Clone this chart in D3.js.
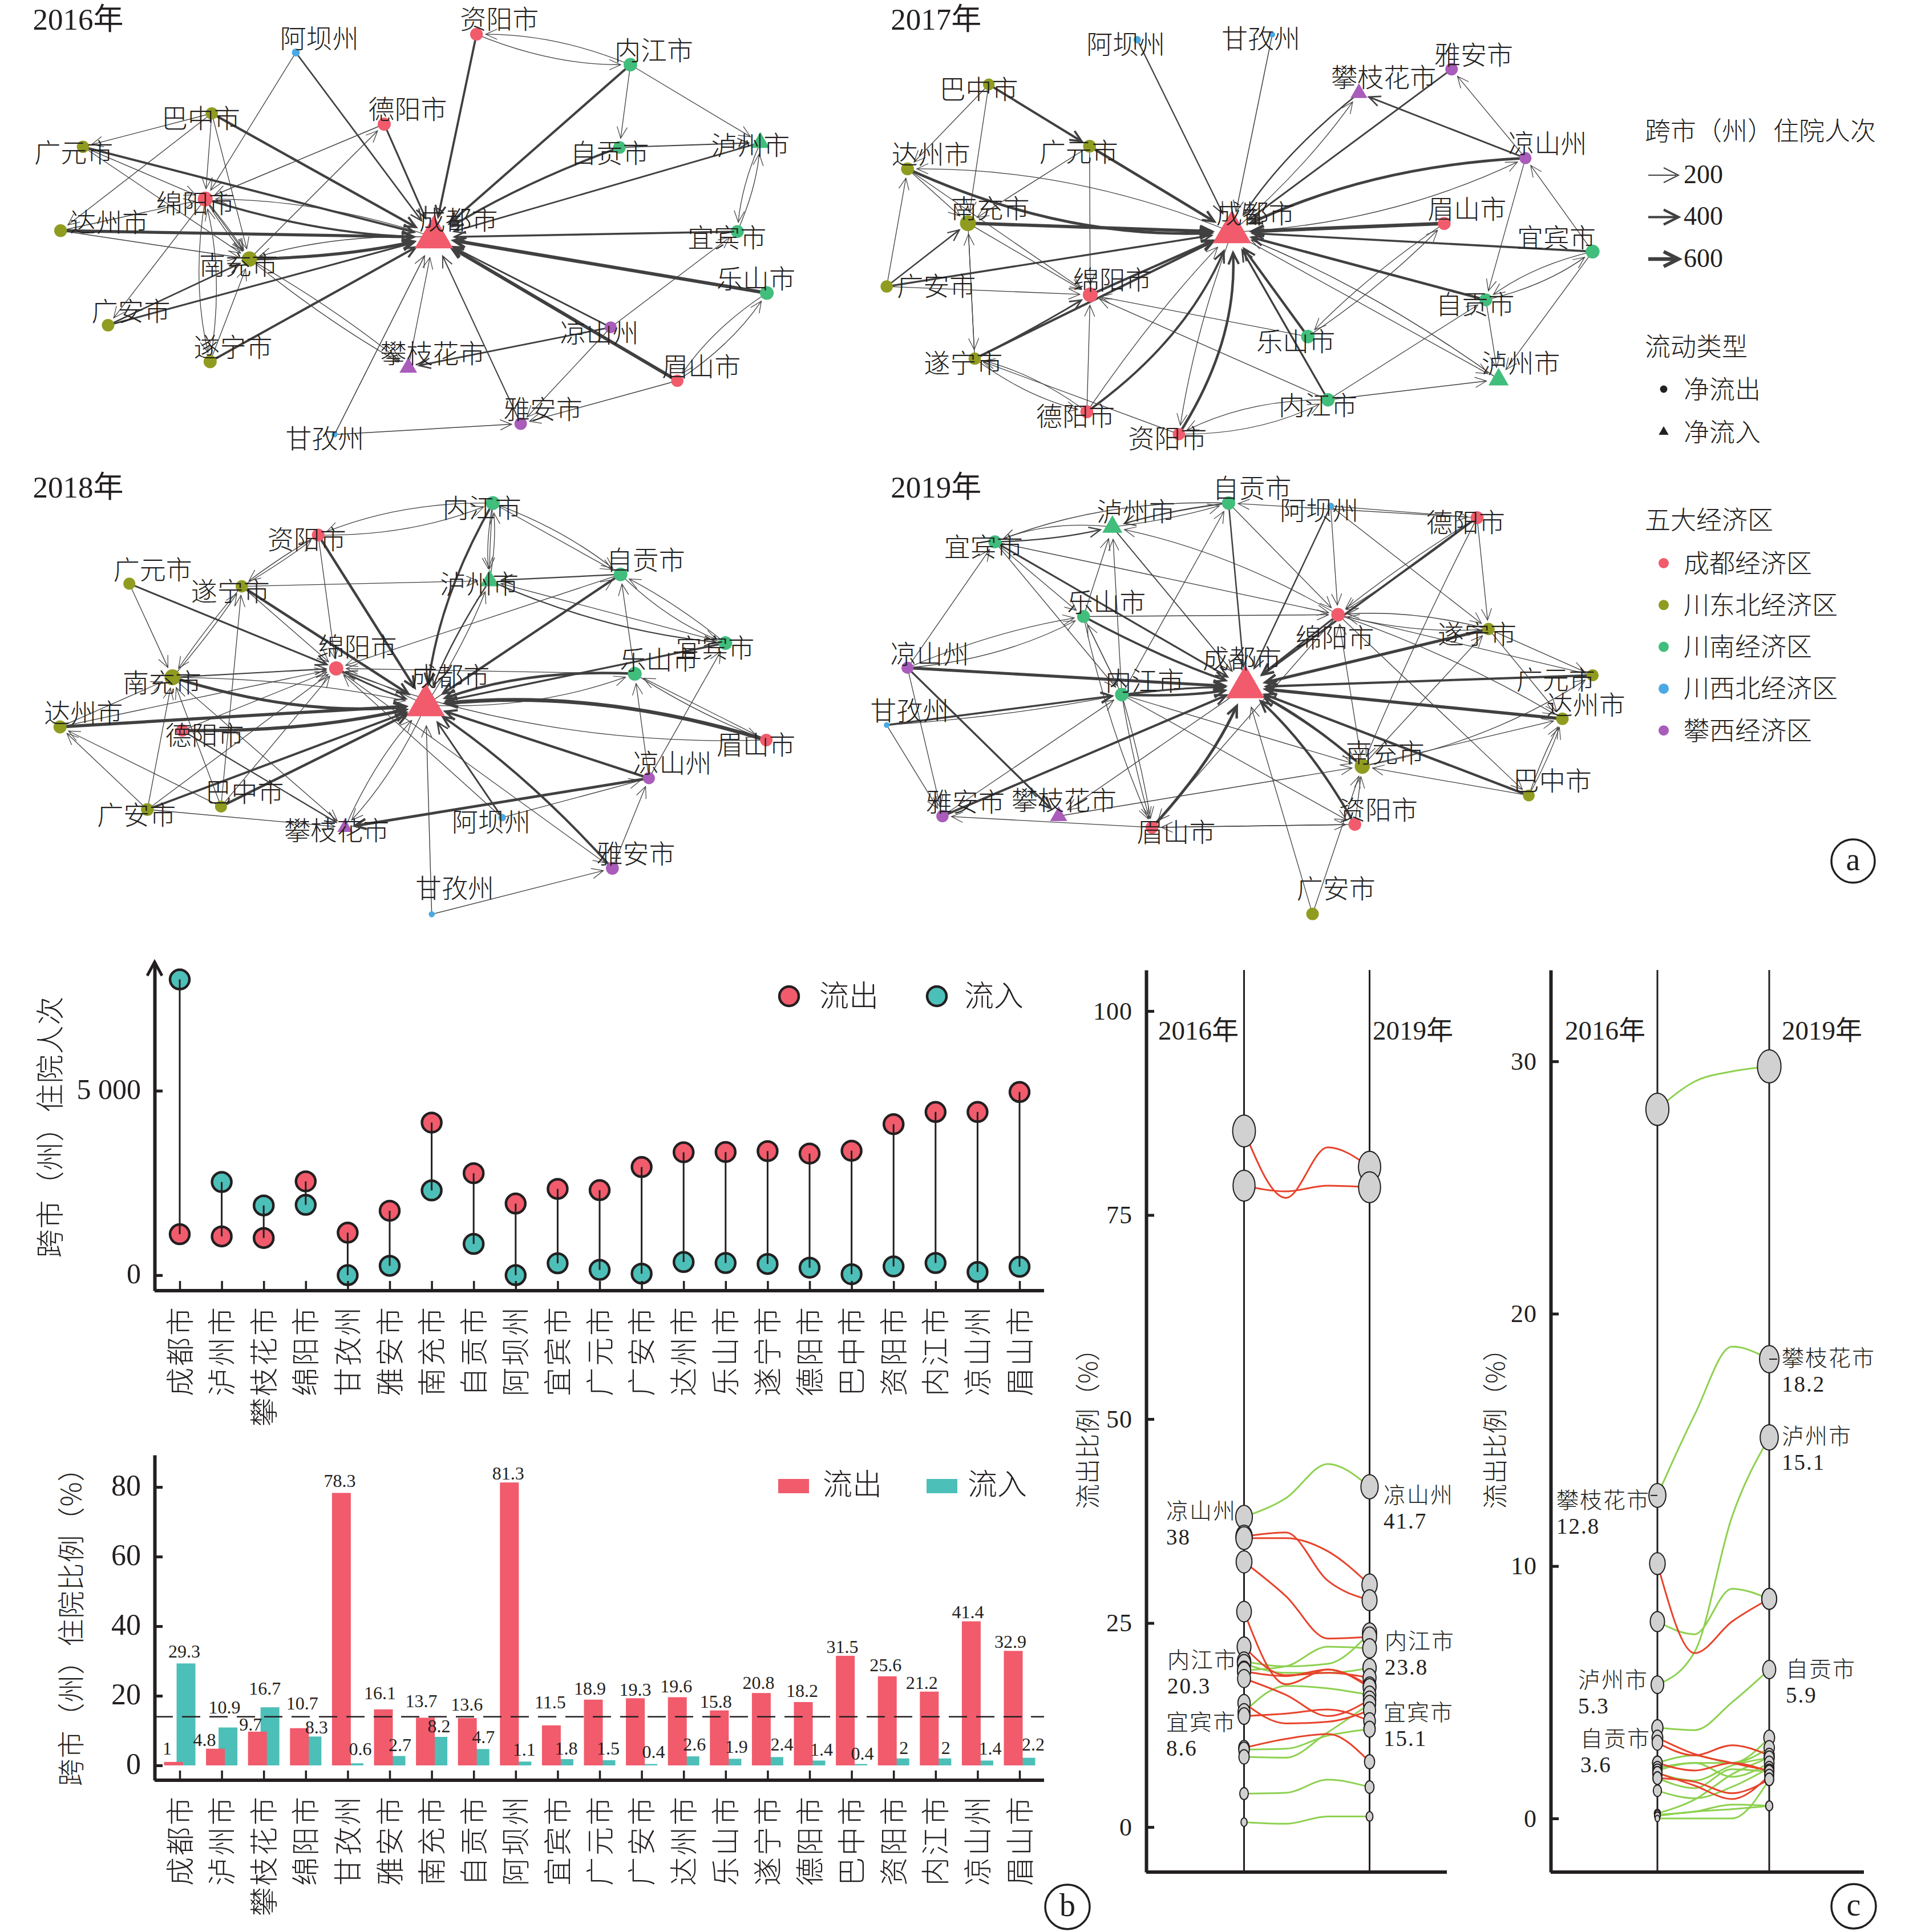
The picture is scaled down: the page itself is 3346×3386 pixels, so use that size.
<!DOCTYPE html>
<html>
<head>
<meta charset="utf-8">
<script src="https://cdn.jsdelivr.net/npm/d3@7"></script>
<style>
  html, body { margin: 0; background: #fff; }
  text { font-family: "Liberation Serif", "Noto Sans CJK SC", serif; fill: #231f20; }
</style>
</head>
<body>
<svg id="chart" width="3346" height="3386"></svg>
<script>
// ---- panel b data
const cities = ["成都市","泸州市","攀枝花市","绵阳市","甘孜州","雅安市","南充市","自贡市","阿坝州","宜宾市","广元市","广安市","达州市","乐山市","遂宁市","德阳市","巴中市","资阳市","内江市","凉山州","眉山市"];
const outCount = [1110,1051,1008,2543,1153,1746,4136,2763,1941,2339,2305,2932,3331,3339,3364,3297,3373,4093,4424,4424,4966];
const inCount = [8017,2525,1890,1907,0,254,2297,847,0,322,144,42,356,330,305,203,25,237,330,85,229];
const outPct = [1,4.8,9.7,10.7,78.3,16.1,13.7,13.6,81.3,11.5,18.9,19.3,19.6,15.8,20.8,18.2,31.5,25.6,21.2,41.4,32.9];
const inPct = [29.3,10.9,16.7,8.3,0.6,2.7,8.2,4.7,1.1,1.8,1.5,0.4,2.6,1.9,2.4,1.4,0.4,2,2,1.4,2.2];
const meanPct = 14;

// ---- panel c data: share in 2016, 2017, 2018, 2019
const years = [2016,2017,2018,2019];
const outShareRed = [
  [85.3,77.1,83.3,80.9],[78.6,77.9,78.6,78.4],[35.6,36.1,30.2,27.8],[35.4,35.4,33.8,29.7],
  [32.5,28.3,23.1,23.3],[26.4,17.5,19.3,17.3],[22.1,18.6,18.9,18.3],[18.2,16.2,13.6,15.6],
  [15.2,12.7,12.9,14.3],[13.6,13.9,14.4,13],[9.7,10.8,11.4,8],[19.1,18.5,19.3,17.1]
];
const outShareGreen = [
  [38,40.3,44.5,41.7],[20.3,19.7,20,23.8],[19.2,19.7,22.1,21.9],[20,18.9,18.9,19.5],
  [14.1,17.3,17,16.2],[9.5,9.6,11.2,12],[8.6,8.5,11.6,15.1],[4.1,4.2,5.8,4.9],[0.6,0.4,1.3,1.3]
];
const inShareRed = [
  [10.1,6.55,7.8,8.7],[3.2,2.55,2.2,1.9],[3,2.5,2.9,2.5],[2.2,1.9,2.2,1.85],[1.8,1.3,0.77,1.7],[1.6,1.45,1,1.55]
];
const inShareGreen = [
  [28.1,29.2,29.6,29.8],[12.8,16,18.7,18.2],[5.3,6.6,11.95,15.1],[7.8,7.3,9.1,8.7],[3.6,3.5,4.6,5.9],
  [0.2,0.75,1.75,2.4],[0.1,0.27,0.37,0.5],[0,0,0,1.55],[0.15,0.27,0.55,0.5],[2,2.2,1.65,2.2],
  [1.8,1.5,2.1,2.4],[1.6,1.2,1.95,1.85],[1.1,0.8,1.25,2],[1.9,2.2,2.2,2.8],[2.2,2.5,2.2,3.2]
];

// ---- panel a data
const regionOf = {
  "成都市":0,"德阳市":0,"绵阳市":0,"眉山市":0,"资阳市":0,
  "广元市":1,"巴中市":1,"达州市":1,"南充市":1,"广安市":1,"遂宁市":1,
  "内江市":2,"自贡市":2,"泸州市":2,"宜宾市":2,"乐山市":2,
  "阿坝州":3,"甘孜州":3,
  "攀枝花市":4,"凉山州":4,"雅安市":4
};
const regionNames = ["成都经济区","川东北经济区","川南经济区","川西北经济区","攀西经济区"];
const netInflow = ["成都市","泸州市","攀枝花市"];
// name, layout x, layout y, label x, label y, visits
const layout2016 = [
  ["资阳市",873,115,915,65,1100],["内江市",1155,217,1198,170,1300],["阿坝州",542,176,585,130,260],
  ["德阳市",704,416,747,367,1200],["巴中市",388,380,368,398,1000],["广元市",152,492,135,512,1000],
  ["绵阳市",376,667,358,682,1700],["达州市",111,773,200,745,1100],["南充市",457,868,437,890,1800],
  ["广安市",198,1090,240,1045,1050],["遂宁市",385,1212,427,1165,1200],["攀枝花市",748,1232,793,1185,1200],
  ["成都市",795,795,840,738,8000],["自贡市",1135,494,1117,515,1100],["泸州市",1393,478,1375,488,1350],
  ["宜宾市",1351,776,1332,797,1150],["乐山市",1405,982,1385,935,1350],["凉山州",1119,1097,1098,1117,900],
  ["眉山市",1241,1276,1285,1229,1000],["雅安市",954,1420,995,1373,1050],["甘孜州",613,1456,595,1470,80]
];
const edges2016 = [
  ["资阳市","成都市",360],["内江市","成都市",380],["阿坝州","成都市",260],["德阳市","成都市",300],
  ["巴中市","成都市",400],["广元市","成都市",360],["绵阳市","成都市",350,.07],["达州市","成都市",500],
  ["南充市","成都市",500,.05],["广安市","成都市",300],["遂宁市","成都市",380],["自贡市","成都市",360,.05],
  ["泸州市","成都市",260],["宜宾市","成都市",320],["乐山市","成都市",560],["凉山州","成都市",280],
  ["眉山市","成都市",560],["雅安市","成都市",200],["甘孜州","成都市",150],["攀枝花市","成都市",130],
  ["资阳市","内江市",130,.1],["内江市","资阳市",130,.1],["内江市","自贡市",130],["内江市","泸州市",130],
  ["自贡市","泸州市",200],["泸州市","宜宾市",130,.08],["宜宾市","泸州市",130,.08],["巴中市","广元市",140],
  ["巴中市","绵阳市",130],["巴中市","南充市",130],["巴中市","达州市",130],["广元市","绵阳市",140],
  ["广元市","南充市",130],["德阳市","绵阳市",150],["南充市","德阳市",140],["阿坝州","绵阳市",130],
  ["绵阳市","南充市",130,.05],["绵阳市","南充市",130,-.03],["达州市","南充市",140],["绵阳市","广安市",130],
  ["绵阳市","遂宁市",130,.1],["遂宁市","绵阳市",130,.1],["遂宁市","南充市",130],["广安市","南充市",260],
  ["南充市","攀枝花市",130,.04],["绵阳市","南充市",140,0],["成都市","南充市",140,.08],["成都市","绵阳市",130,.08],
  ["南充市","攀枝花市",130,-.04],["凉山州","攀枝花市",280],["凉山州","宜宾市",130],["凉山州","雅安市",130],
  ["眉山市","雅安市",140],["眉山市","乐山市",130,.1],["乐山市","眉山市",130,.1],["甘孜州","雅安市",150],
  ["达州市","绵阳市",130]
];
const layout2017 = [
  ["阿坝州",419,133,402,150,200],["甘孜州",620,116,603,130,70],["雅安市",887,232,920,185,1050],
  ["攀枝花市",749,312,786,260,1050],["巴中市",198,283,183,300,900],["广元市",348,490,332,510,1150],
  ["达州市",77,566,112,518,1150],["南充市",167,748,200,700,2000],["广安市",46,960,120,960,1000],
  ["绵阳市",349,988,382,938,1650],["遂宁市",177,1202,160,1218,1000],["德阳市",344,1380,327,1395,1150],
  ["资阳市",481,1455,464,1470,1000],["内江市",703,1340,688,1360,1250],["泸州市",957,1272,990,1218,1700],
  ["乐山市",673,1128,655,1145,1300],["自贡市",938,1005,922,1022,1150],["宜宾市",1097,843,1043,797,1400],
  ["眉山市",876,749,910,702,1150],["凉山州",997,530,1030,482,950],["成都市",560,778,595,718,8000]
];
const edges2017 = [
  ["阿坝州","成都市",220],["甘孜州","成都市",150],["雅安市","成都市",280],["攀枝花市","成都市",240,.08],
  ["成都市","攀枝花市",130,.06],["凉山州","攀枝花市",280],["凉山州","雅安市",130],["凉山州","成都市",460,.1],
  ["成都市","凉山州",130,.1],["凉山州","自贡市",130],["宜宾市","凉山州",130],["巴中市","广元市",380],
  ["巴中市","达州市",130],["巴中市","南充市",130],["广元市","成都市",440],["广元市","南充市",130],
  ["广元市","绵阳市",130],["达州市","成都市",440,.12],["成都市","达州市",130,.1],["达州市","南充市",130],
  ["达州市","绵阳市",130],["南充市","成都市",540],["南充市","绵阳市",130],["南充市","遂宁市",130],
  ["遂宁市","南充市",130],["广安市","达州市",130],["广安市","南充市",240],["广安市","成都市",320],
  ["广安市","绵阳市",130],["绵阳市","成都市",400],["遂宁市","绵阳市",280,.02],["遂宁市","成都市",380],
  ["德阳市","绵阳市",130],["德阳市","成都市",360,.14],["德阳市","成都市",130,-.04],["资阳市","遂宁市",130],
  ["德阳市","遂宁市",130,.1],["遂宁市","德阳市",130,.1],["资阳市","成都市",420,.16],["成都市","资阳市",130,.05],
  ["内江市","资阳市",130,.12],["资阳市","内江市",130,.12],["内江市","成都市",320],["内江市","绵阳市",130],
  ["内江市","自贡市",130],["内江市","泸州市",140],["乐山市","绵阳市",130],["乐山市","成都市",400],
  ["乐山市","眉山市",130,.05],["眉山市","乐山市",130,.05],["眉山市","成都市",580],["宜宾市","成都市",340],
  ["宜宾市","自贡市",130,.1],["自贡市","宜宾市",130,.1],["宜宾市","泸州市",130],["自贡市","成都市",420],
  ["自贡市","泸州市",130],["成都市","泸州市",130],["泸州市","成都市",150,.06]
];
const layout2018 = [
  ["内江市",903,118,883,135,1400],["资阳市",583,225,562,240,1100],["自贡市",1137,357,1183,310,1350],
  ["广元市",237,388,280,342,950],["遂宁市",443,397,422,415,1000],["泸州市",897,378,878,390,1500],
  ["绵阳市",616,672,655,600,1500],["南充市",316,702,297,720,2000],["达州市",110,868,153,822,1200],
  ["德阳市",334,880,375,897,1050],["广安市",270,1145,250,1165,1100],["巴中市",405,1135,448,1088,950],
  ["攀枝花市",632,1205,617,1217,800],["阿坝州",920,1172,900,1187,220],["甘孜州",791,1496,833,1410,90],
  ["雅安市",1122,1342,1165,1295,1150],["凉山州",1189,1040,1232,990,950],["眉山市",1404,912,1385,930,1050],
  ["乐山市",1163,690,1208,645,1400],["宜宾市",1329,587,1310,605,1350],["成都市",780,795,825,700,8000]
];
const edges2018 = [
  ["内江市","资阳市",130,.1],["资阳市","内江市",130,.1],["内江市","成都市",360,.1],["内江市","泸州市",130,.07],
  ["泸州市","内江市",130,.07],["内江市","泸州市",130,.02],["内江市","自贡市",130],["内江市","自贡市",130,-.08],
  ["资阳市","遂宁市",130,.03],["遂宁市","资阳市",130,.03],["资阳市","成都市",420],["资阳市","绵阳市",130],
  ["广元市","绵阳市",300],["广元市","南充市",130],["遂宁市","成都市",420],["遂宁市","南充市",130,.03],
  ["南充市","遂宁市",130,.03],["遂宁市","泸州市",130],["遂宁市","绵阳市",130],["巴中市","遂宁市",130],
  ["巴中市","成都市",420],["巴中市","绵阳市",130],["巴中市","南充市",130],["南充市","成都市",480,.1],
  ["南充市","绵阳市",200],["南充市","成都市",130,-.05],["南充市","攀枝花市",130],["达州市","成都市",520],
  ["达州市","南充市",130],["达州市","绵阳市",130],["德阳市","成都市",540,.06],["德阳市","绵阳市",130],
  ["德阳市","攀枝花市",220],["广安市","达州市",130],["巴中市","达州市",130],["广安市","成都市",360],
  ["广安市","南充市",130],["广安市","绵阳市",130],["广安市","攀枝花市",140],["攀枝花市","成都市",130,-.08],
  ["成都市","攀枝花市",130,-.08],["绵阳市","成都市",300,.04],["成都市","绵阳市",130,.04],["乐山市","绵阳市",130],
  ["乐山市","成都市",420,.1],["成都市","乐山市",130,.1],["宜宾市","成都市",320],["宜宾市","自贡市",130,.05],
  ["自贡市","宜宾市",130,.1],["宜宾市","泸州市",130],["自贡市","泸州市",220],["自贡市","成都市",400],
  ["自贡市","绵阳市",130],["乐山市","自贡市",130],["成都市","自贡市",130],["泸州市","成都市",240,.05],
  ["成都市","泸州市",130,.05],["泸州市","宜宾市",220,.08],["眉山市","成都市",620,.1],["眉山市","乐山市",130],
  ["乐山市","眉山市",130,.05],["眉山市","绵阳市",130,-.1],["凉山州","乐山市",130],["凉山州","宜宾市",130],
  ["凉山州","成都市",400],["凉山州","攀枝花市",440],["阿坝州","凉山州",130],["阿坝州","成都市",280],
  ["阿坝州","绵阳市",130],["雅安市","成都市",380,.06],["雅安市","凉山州",130],["绵阳市","雅安市",130],
  ["甘孜州","成都市",140],["甘孜州","雅安市",140]
];
const layout2019 = [
  ["自贡市",555,118,590,68,1250],["泸州市",382,198,417,148,1700],["阿坝州",707,128,690,143,150],
  ["德阳市",925,167,908,183,1150],["宜宾市",207,248,190,265,1150],["乐山市",339,498,373,452,1150],
  ["绵阳市",718,492,713,570,1300],["遂宁市",942,540,925,558,1000],["凉山州",77,670,110,625,950],
  ["广元市",1097,695,1042,712,950],["成都市",580,735,575,640,8000],["内江市",396,760,430,715,1300],
  ["甘孜州",46,862,80,815,70],["达州市",1052,841,1087,795,1050],["南充市",754,1000,788,957,1750],
  ["巴中市",1002,1098,1037,1050,900],["雅安市",129,1167,163,1120,1000],["攀枝花市",302,1167,310,1115,1100],
  ["眉山市",441,1205,477,1222,1100],["资阳市",743,1195,778,1148,1100],["广安市",680,1495,715,1412,1050]
];
const edges2019 = [
  ["甘孜州","内江市",320],["甘孜州","内江市",130,.03],["凉山州","成都市",480],["内江市","成都市",420,.05],
  ["内江市","成都市",320,-.03],["广元市","成都市",380],["遂宁市","成都市",480],["达州市","成都市",520],
  ["巴中市","成都市",400],["南充市","成都市",400,.06],["资阳市","成都市",400,.08],["眉山市","成都市",460,.08],
  ["雅安市","成都市",380],["凉山州","攀枝花市",320],["乐山市","成都市",360,.04],["宜宾市","成都市",300],
  ["德阳市","成都市",360],["绵阳市","成都市",300],["自贡市","成都市",240],["泸州市","成都市",180],
  ["阿坝州","成都市",240],["广安市","成都市",130],["自贡市","泸州市",220,.04],["泸州市","自贡市",130,.04],
  ["自贡市","宜宾市",140,.1],["泸州市","宜宾市",130,.12],["宜宾市","泸州市",240,.05],["自贡市","绵阳市",130],
  ["德阳市","自贡市",130],["阿坝州","德阳市",130],["阿坝州","绵阳市",130],["阿坝州","遂宁市",130],
  ["德阳市","绵阳市",130,.03],["德阳市","绵阳市",130,-.03],["德阳市","遂宁市",130],["宜宾市","绵阳市",130],
  ["宜宾市","乐山市",130],["乐山市","绵阳市",140],["乐山市","泸州市",130],["内江市","泸州市",130],
  ["内江市","乐山市",130],["乐山市","内江市",130],["内江市","自贡市",130],["乐山市","眉山市",130,.05],
  ["凉山州","乐山市",130,.1],["凉山州","乐山市",130,-.06],["凉山州","宜宾市",130],["凉山州","雅安市",130],
  ["甘孜州","雅安市",130],["绵阳市","泸州市",130,.08],["绵阳市","遂宁市",130,.08],["遂宁市","绵阳市",150,.08],
  ["遂宁市","广元市",130],["遂宁市","达州市",130],["绵阳市","达州市",130,-.05],["南充市","广元市",130,.1],
  ["南充市","达州市",130],["巴中市","南充市",130],["巴中市","达州市",130,.04],["巴中市","达州市",130,-.04],
  ["南充市","遂宁市",130],["绵阳市","巴中市",130],["内江市","南充市",130],["内江市","资阳市",130],
  ["内江市","眉山市",130,.03],["内江市","眉山市",130,-.03],["眉山市","雅安市",140],["眉山市","资阳市",140],
  ["资阳市","眉山市",130],["攀枝花市","南充市",140],["资阳市","南充市",130],["广安市","南充市",130],
  ["绵阳市","眉山市",130],["南充市","绵阳市",130],["广元市","绵阳市",130],["成都市","攀枝花市",130],
  ["雅安市","内江市",130],["宜宾市","内江市",130],["成都市","南充市",130,-.05],["德阳市","南充市",130,.02]
];
const networks = [
  {year:2016, nodes:layout2016, edges:edges2016},
  {year:2017, nodes:layout2017, edges:edges2017},
  {year:2018, nodes:layout2018, edges:edges2018},
  {year:2019, nodes:layout2019, edges:edges2019}
];
const legendWeights = [200,400,600];

// ---- shared styles and scales
const RED = "#f15b6c", TEAL = "#4cbfb8", INK = "#231f20", EDGE = "#404040";
const regionColor = d3.scaleOrdinal().domain(d3.range(5)).range(["#f15b6c","#8f9c20","#41bd7c","#4aa9e2","#a95cba"]);
const edgeWidth = d3.scaleLinear().domain([130,700]).range([1.3,7.5]);
const nodeRadius = d3.scaleSqrt().domain([0,8000]).range([3,25]);
const CJK = '"Noto Sans CJK SC", sans-serif';

const svg = d3.select("#chart");

// panel a
function drawNetwork(net, i) {
  const x0 = i % 2 ? 1500 : 0, w = i % 2 ? 1846 : 1500;
  const y0 = i < 2 ? 0 : 820;
  const x = d3.scaleLinear().domain([0,1568]).range([x0, x0 + w]);
  const y = d3.scaleLinear().domain([0,1568]).range([y0, y0 + 820]);
  const g = svg.append("g").attr("class","net");
  const nodes = net.nodes.map(d => ({name:d[0], x:x(d[1]), y:y(d[2]), lx:x(d[3]), ly:y(d[4]),
    r:nodeRadius(d[5]), tri:netInflow.includes(d[0])}));
  const byName = new Map(nodes.map(d => [d.name, d]));

  net.edges.forEach(e => {
    const a = byName.get(e[0]), b = byName.get(e[1]);
    const bend = e[3] || 0;
    const dx = b.x - a.x, dy = b.y - a.y;
    const cx = (a.x + b.x) / 2 - dy * bend, cy = (a.y + b.y) / 2 + dx * bend;
    // stop short of the target, along the direction the curve arrives from
    const ang = Math.atan2(b.y - cy, b.x - cx);
    const gap = (b.tri ? b.r * 1.25 : b.r) + 5;
    const ex = b.x - Math.cos(ang) * gap, ey = b.y - Math.sin(ang) * gap;
    const p = d3.path();
    p.moveTo(a.x, a.y);
    p.quadraticCurveTo(cx, cy, ex, ey);
    const sw = edgeWidth(e[2]);
    g.append("path").attr("d", p.toString()).attr("fill","none").attr("stroke",EDGE).attr("stroke-width", sw);
    g.append("path").attr("d", arrowHead(ex, ey, ang, 20, 9)).attr("fill","none")
      .attr("stroke",EDGE).attr("stroke-width", Math.max(1.2, sw * 0.9));
  });

  g.selectAll("path.node").data(nodes).join("path")
    .attr("class","node")
    .attr("transform", d => `translate(${d.x},${d.y})`)
    .attr("d", d => d3.symbol().type(d.tri ? d3.symbolTriangle : d3.symbolCircle).size(Math.PI * d.r * d.r)())
    .attr("fill", d => regionColor(regionOf[d.name]));

  g.selectAll("text.lab").data(nodes).join("text")
    .attr("class","lab")
    .attr("x", d => d.lx).attr("y", d => d.ly - 4)
    .attr("text-anchor","middle").attr("dominant-baseline","central")
    .style("font-family", CJK).style("font-size","46px").style("font-weight",300)
    .text(d => d.name);

  g.append("text").attr("x", x(i % 2 ? 52 : 60)).attr("y", y(65))
    .attr("dominant-baseline","central").style("font-size","53px").text(net.year + "年");
}
function arrowHead(x, y, ang, len, half) {
  const c = Math.cos(ang), s = Math.sin(ang);
  return `M${x - c * len - s * half},${y - s * len + c * half}L${x},${y}L${x - c * len + s * half},${y - s * len - c * half}`;
}
networks.forEach(drawNetwork);

// legends of panel a
function heading(str, x, y) {
  svg.append("text").attr("x",x).attr("y",y - 3).attr("dominant-baseline","central")
    .style("font-family",CJK).style("font-size","45px").style("font-weight",300).text(str);
}
heading("跨市（州）住院人次", 2883, 229);
legendWeights.forEach((v, i) => {
  const yy = 307 + i * 73.5;
  svg.append("line").attr("x1",2889).attr("x2",2938).attr("y1",yy).attr("y2",yy)
    .attr("stroke",EDGE).attr("stroke-width",edgeWidth(v));
  svg.append("path").attr("d",arrowHead(2942,yy,0,26,13)).attr("fill","none")
    .attr("stroke",EDGE).attr("stroke-width",edgeWidth(v));
  svg.append("text").attr("x",2951).attr("y",yy - 2).attr("dominant-baseline","central")
    .style("font-size","46px").text(v);
});
heading("流动类型", 2883, 607);
[["净流出",d3.symbolCircle,682],["净流入",d3.symbolTriangle,757]].forEach(d => {
  svg.append("path").attr("transform",`translate(2916,${d[2]})`).attr("d",d3.symbol().type(d[1]).size(130)()).attr("fill",INK);
  heading(d[0], 2951, d[2]);
});
heading("五大经济区", 2883, 911);
regionNames.forEach((n, i) => {
  const yy = 987 + i * 73.3;
  svg.append("circle").attr("cx",2916).attr("cy",yy).attr("r",9).attr("fill",regionColor(i));
  heading(n, 2951, yy);
});

// circled panel letters
function panelTag(str, cx, cy, r) {
  svg.append("circle").attr("cx",cx).attr("cy",cy).attr("r",r).attr("fill","#fff").attr("stroke",INK).attr("stroke-width",3.5);
  svg.append("text").attr("x",cx).attr("y",cy-3).attr("text-anchor","middle").attr("dominant-baseline","central")
    .style("font-size","56px").text(str);
}
panelTag("a", 3248, 1509, 38);
panelTag("b", 1871, 3342, 39);
panelTag("c", 3249, 3341, 39);

// panel b helpers
const xCity = d3.scalePoint().domain(cities).range([315,1787]);
function vLabel(str, x, y, size, spacing) {
  svg.append("text").attr("transform",`translate(${x},${y}) rotate(-90)`)
    .attr("text-anchor","middle").attr("dominant-baseline","central")
    .style("font-family",CJK).style("font-size",size + "px").style("letter-spacing",spacing + "px").style("font-weight",300).text(str);
}
function cityAxis(y0) {
  const ax = svg.append("g").attr("transform",`translate(0,${y0})`)
    .call(d3.axisBottom(xCity).tickSize(-17).tickSizeOuter(0));
  ax.select(".domain").remove();
  ax.append("line").attr("x1",271).attr("x2",1830).attr("stroke",INK).attr("stroke-width",6);
  ax.selectAll(".tick line").attr("stroke",INK).attr("stroke-width",3.5);
  ax.selectAll(".tick text")
    .attr("transform","rotate(-90)").attr("text-anchor","end").attr("x",-26).attr("y",0).attr("dy","0.36em")
    .style("font-family",CJK).style("font-size","50px").style("letter-spacing","3px").style("font-weight",300).attr("fill",INK);
}
function valueAxis(scale, ticks, fmt, xPos, size, tickLen, dy) {
  const ax = svg.append("g").attr("transform",`translate(${xPos},0)`)
    .call(d3.axisLeft(scale).tickValues(ticks).tickFormat(fmt).tickSizeOuter(0).tickSizeInner(-tickLen).tickPadding(24));
  ax.select(".domain").attr("stroke",INK).attr("stroke-width",6);
  ax.selectAll(".tick line").attr("stroke",INK).attr("stroke-width",5);
  ax.selectAll(".tick text").style("font-size",size + "px").attr("fill",INK).attr("dy",dy);
  return ax;
}

// dumbbells
const yCount = d3.scaleLinear().domain([-420,8490]).range([2262,1686]);
const fmtSpace = d3.formatLocale({decimal:".",thousands:" ",grouping:[3],currency:["",""]}).format(",");
valueAxis(yCount, [0,5000], fmtSpace, 271, 50, 14, "0.27em");
svg.append("path").attr("d",`M${271-13},${yCount.range()[1]+24}L271,${yCount.range()[1]}L${271+13},${yCount.range()[1]+24}`)
  .attr("fill","none").attr("stroke",INK).attr("stroke-width",5);
const rows = cities.map((c,i) => ({c, o:outCount[i], n:inCount[i], op:outPct[i], np:inPct[i], i}));
svg.append("g").selectAll("circle.o").data(rows).join("circle")
  .attr("cx",d=>xCity(d.c)).attr("cy",d=>yCount(d.o)).attr("r",17).attr("fill",RED).attr("stroke",INK).attr("stroke-width",4.5);
svg.append("g").selectAll("circle.n").data(rows).join("circle")
  .attr("cx",d=>xCity(d.c)).attr("cy",d=>yCount(d.n)).attr("r",17).attr("fill",TEAL).attr("stroke",INK).attr("stroke-width",4.5);
svg.append("g").selectAll("line").data(rows).join("line")
  .attr("x1",d=>xCity(d.c)).attr("x2",d=>xCity(d.c)).attr("y1",d=>yCount(d.o)).attr("y2",d=>yCount(d.n))
  .attr("stroke",INK).attr("stroke-width",3);
cityAxis(2262);
vLabel("跨市（州）住院人次", 84, 1975, 50, 1);
[["流出",1383,RED,1436],["流入",1642,TEAL,1690]].forEach(d => {
  svg.append("circle").attr("cx",d[1]).attr("cy",1746).attr("r",17).attr("fill",d[2]).attr("stroke",INK).attr("stroke-width",4.5);
  svg.append("text").attr("x",d[3]).attr("y",1741).attr("dominant-baseline","central")
    .style("font-family",CJK).style("font-size","52px").style("font-weight",300).text(d[0]);
});

// bars
const yPct = d3.scaleLinear().domain([-4.26,89.2]).range([3120,2550]);
valueAxis(yPct, [0,20,40,60,80], d3.format("d"), 271, 52, 14, "0.27em");
const BAR = 33, SHIFT = 11;
svg.append("g").selectAll("rect").data(rows).join("rect")
  .attr("x",d=>xCity(d.c)+SHIFT-BAR/2).attr("width",BAR).attr("y",d=>yPct(d.np)).attr("height",d=>yPct(0)-yPct(d.np)).attr("fill",TEAL);
svg.append("g").selectAll("rect").data(rows).join("rect")
  .attr("x",d=>xCity(d.c)-SHIFT-BAR/2).attr("width",BAR).attr("y",d=>yPct(d.op)).attr("height",d=>yPct(0)-yPct(d.op)).attr("fill",RED);
svg.append("line").attr("x1",271).attr("x2",1830).attr("y1",yPct(meanPct)).attr("y2",yPct(meanPct))
  .attr("stroke",INK).attr("stroke-width",2.5).attr("stroke-dasharray","32 16");
// the value labels were placed by hand in the original to dodge the dashed line
const outLabelDx = [-22,-30,-23,-6,-14,-17,-18,-12,-13,-13,-17,-11,-13,-17,-16,-13,-16,-14,-24,-17,-16];
const inLabelDx = [8,5,2,19,22,18,13,17,15,15,15,21,19,19,25,21,19,18,18,22,24];
const outLabelGap = [11,3,0,31,8,16,16,11,3,28,7,2,6,3,5,7,3,7,3,4,3];
const inLabelGap = [8,23,20,3,12,7,6,8,8,6,8,9,8,8,9,6,6,6,6,8,11];
const valueLabel = sel => sel.attr("text-anchor","middle").style("font-size","32px").attr("fill",INK);
svg.append("g").selectAll("text").data(rows).join("text")
  .attr("x",d=>xCity(d.c)+outLabelDx[d.i]).attr("y",d=>yPct(d.op)-outLabelGap[d.i]-2).call(valueLabel).text(d=>d.op);
svg.append("g").selectAll("text").data(rows).join("text")
  .attr("x",d=>xCity(d.c)+inLabelDx[d.i]).attr("y",d=>yPct(d.np)-inLabelGap[d.i]-2).call(valueLabel).text(d=>d.np);
cityAxis(3120);
vLabel("跨市（州）住院比例（%）", 121, 2839, 48, 1);
[["流出",1364,RED,1442],["流入",1624,TEAL,1696]].forEach(d => {
  svg.append("rect").attr("x",d[1]).attr("y",2592).attr("width",54).attr("height",25).attr("fill",d[2]);
  svg.append("text").attr("x",d[3]).attr("y",2597).attr("dominant-baseline","central")
    .style("font-family",CJK).style("font-size","52px").style("font-weight",300).text(d[0]);
});

// panel c
function drawSlope(opt) {
  const y = d3.scaleLinear().domain(opt.domain).range([3281,1700]);
  const x = d3.scalePoint().domain(years).range(opt.xs);
  valueAxis(y, opt.ticks, d3.format("d"), opt.axisX, 44, 14, "0.32em").selectAll(".tick text").style("letter-spacing","1px");
  svg.append("line").attr("x1",opt.axisX).attr("x2",opt.xEnd).attr("y1",3281).attr("y2",3281).attr("stroke",INK).attr("stroke-width",6);
  opt.xs.forEach(v => svg.append("line").attr("x1",v).attr("x2",v).attr("y1",1700).attr("y2",3281).attr("stroke",INK).attr("stroke-width",3));
  const line = d3.line().x((d,i)=>x(years[i])).y(d=>y(d)).curve(d3.curveMonotoneX);
  [[opt.green,"#8dd14f"],[opt.red,"#e8432b"]].forEach(([set,col]) => {
    svg.append("g").selectAll("path").data(set).join("path").attr("d",line)
      .attr("fill","none").attr("stroke",col).attr("stroke-width",3);
  });
  const r = d3.scaleSqrt().domain([0,opt.domain[1]*0.82]).range([4,20]);
  const all = opt.green.concat(opt.red);
  [0,3].forEach(k => {
    const vals = all.map(d=>d[k]).sort(d3.descending);
    svg.append("g").selectAll("ellipse").data(vals).join("ellipse")
      .attr("cx",x(years[k])).attr("cy",d=>y(d)).attr("rx",d=>r(d)).attr("ry",d=>r(d)*1.4)
      .attr("fill","#d1d1d1").attr("stroke",INK).attr("stroke-width",2);
  });
  opt.leaders.forEach(n => svg.append("line").attr("x1",n[0]).attr("x2",n[1]).attr("y1",y(n[2])).attr("y2",y(n[2]))
    .attr("stroke",INK).attr("stroke-width",2));
  svg.append("text").attr("x",opt.yearX[0]).attr("y",1806).attr("dominant-baseline","central").style("font-size","47px").text("2016年");
  svg.append("text").attr("x",opt.yearX[1]).attr("y",1806).attr("dominant-baseline","central").style("font-size","47px").text("2019年");
  opt.notes.forEach(n => {
    const t = svg.append("g").style("font-size","39px").style("letter-spacing","2px");
    t.append("text").attr("x",n[2]).attr("y",n[3]).attr("dominant-baseline","central").style("font-family",CJK).style("font-weight",300).text(n[0]);
    t.append("text").attr("x",n[2]).attr("y",n[3]+48).attr("dominant-baseline","central").text(n[1]);
  });
  vLabel("流出比例（%）", opt.titleX, 2493, 44, 0);
}
drawSlope({domain:[-5.52,105.03], ticks:[0,25,50,75,100], xs:[2180.5,2400.5], axisX:2009, xEnd:2536,
  green:outShareGreen, red:outShareRed, titleX:1904, yearX:[2030,2406], leaders:[],
  notes:[["凉山州",38,2044,2645],["内江市",20.3,2046,2906],["宜宾市",8.6,2044,3015],
         ["凉山州",41.7,2425,2617],["内江市",23.8,2427,2873],["宜宾市",15.1,2425,2998]]});
drawSlope({domain:[-2.125,33.62], ticks:[0,10,20,30], xs:[2905,3101], axisX:2718, xEnd:3267,
  green:inShareGreen, red:inShareRed, titleX:2618, yearX:[2743,3123], leaders:[[2893,2905,12.8],[3101,3115,18.2]],
  notes:[["攀枝花市",12.8,2728,2626],["泸州市",5.3,2766,2941],["自贡市",3.6,2770,3044],
         ["攀枝花市",18.2,3123,2377],["泸州市",15.1,3123,2514],["自贡市",5.9,3130,2922]]});
</script>
</body>
</html>
